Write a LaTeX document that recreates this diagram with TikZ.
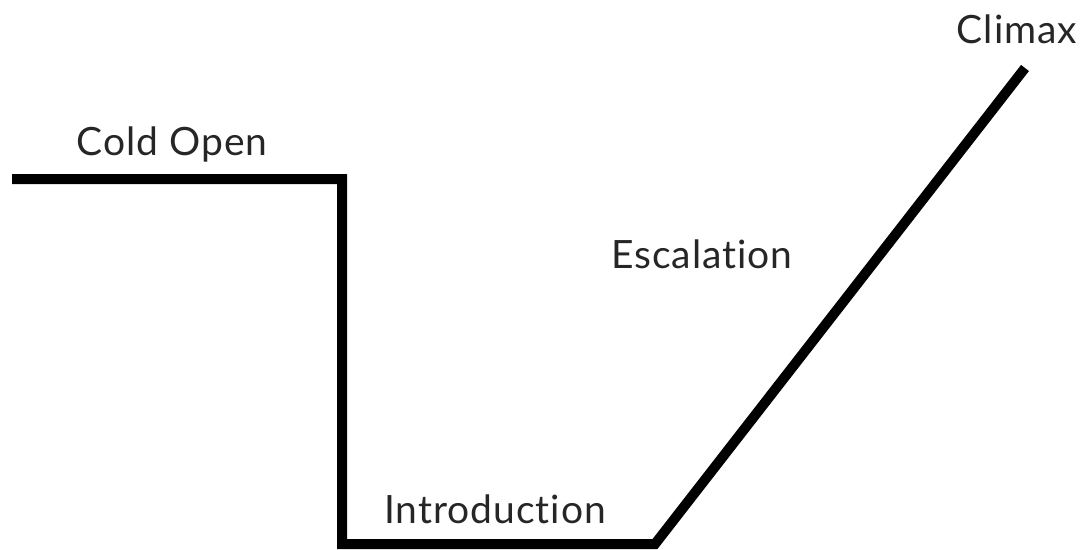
\documentclass[tikz,border=0pt]{standalone}
\usepackage{fontspec}
\setmainfont{Lato}[Ligatures={NoCommon,NoRequired,NoContextual,NoRare},LetterSpace=2.5]
\begin{document}
\begin{tikzpicture}[x=1pt,y=-1pt,
  arc/.style={line width=10pt,line join=miter,line cap=butt,black},
  lbl/.style={anchor=base,inner sep=0pt,font=\fontsize{39}{42}\selectfont,text=black!85}]
\useasboundingbox (0,0) rectangle (1087,549);
\coordinate (start) at (12,179);
\coordinate (drop) at (342,179);
\coordinate (low) at (342,544);
\coordinate (rise) at (655,544);
\coordinate (peak) at (1025,68);
\draw[arc] (start) -- (drop) -- (low) -- (rise) -- (peak);
\node[lbl] (cold) at (172,155) {Cold Open};
\node[lbl] (intro) at (495,523) {Introduction};
\node[lbl] (esc) at (702,268) {Escalation};
\node[lbl] (climax) at (1017,43) {Climax};
\end{tikzpicture}
\end{document}
